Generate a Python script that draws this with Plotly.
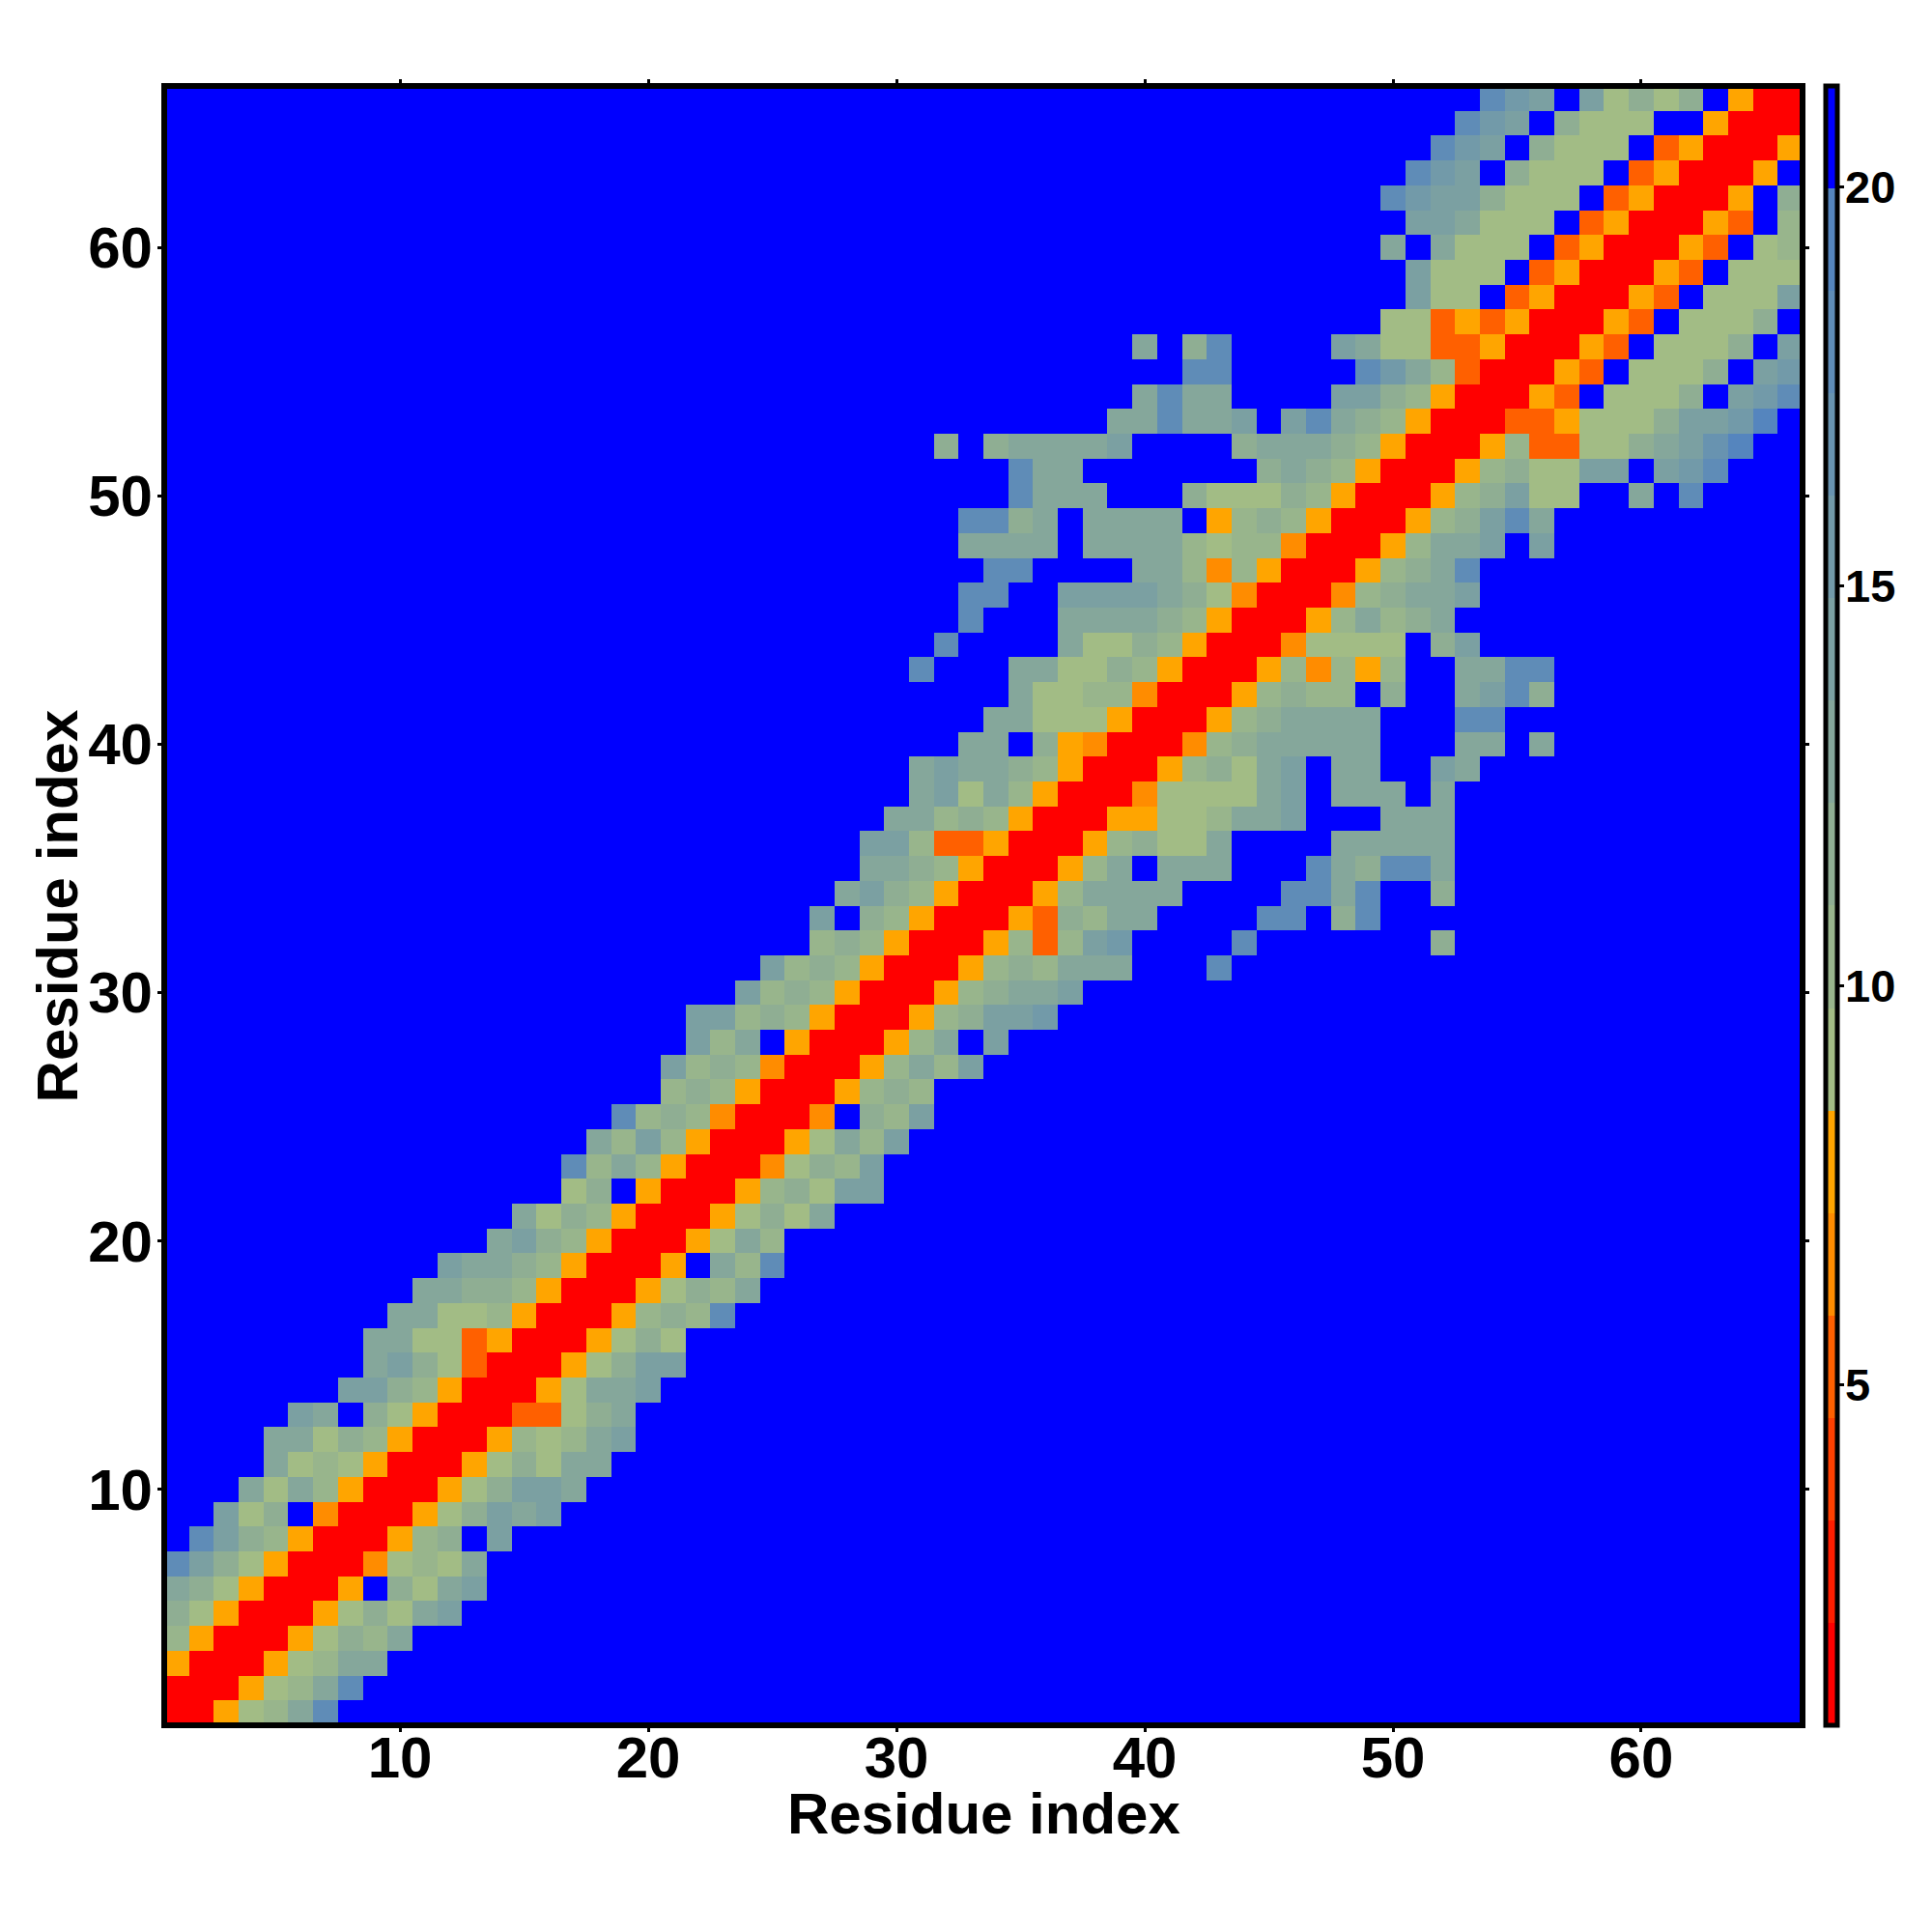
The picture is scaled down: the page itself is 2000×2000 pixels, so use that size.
import plotly.graph_objects as go

# Residue indices on both axes
residues = list(range(1, 67))
tick_values = [10, 20, 30, 40, 50, 60]
colorbar_ticks = [5, 10, 15, 20]
axis_title = "Residue index"

# Colour-bin edges (16 equal bins)
z_min = 0.74
z_max = 21.26
bin_colors = ["#FF0000", "#FF1E00", "#FF4000", "#FF6000", "#FF8C00", "#FFA500",
              "#A2BC85", "#98B58C", "#8FAE93", "#85A79B", "#7BA0A2", "#729AA9",
              "#6893B0", "#5F8CB7", "#5585BE", "#0000FF"]

# Distance bin per cell, read row by row; cells not listed are the top bin (f)
row_cells = {
    1: [(1, "005679d")],
    2: [(1, "0005679d")],
    3: [(1, "500056799")],
    4: [(1, "7500056879")],
    5: [(1, "86500056869a")],
    6: [(1, "98650005f869a")],
    7: [(1, "da86500046769")],
    8: [(2, "da875000578fa")],
    9: [(3, "a68f4000568a9a")],
    10: [(4, "96975000568aa9")],
    11: [(5, "96765000568699")],
    12: [(5, "99687500057679a")],
    13: [(6, "a9f86500033689")],
    14: [(8, "aa8750005699a")],
    15: [(9, "9a863000568aa")],
    16: [(9, "9966350005686")],
    17: [(10, "9966750005787d")],
    18: [(11, "99887500056879")],
    19: [(12, "a998750005f97d")],
    20: [(14, "9a8750005697")],
    21: [(15, "9687500056869")],
    22: [(17, "68f50005786aa")],
    23: [(17, "d79750004687a")],
    24: [(18, "97a750005697a")],
    25: [(19, "d78740004f87a")],
    26: [(21, "78750005787")],
    27: [(21, "a78740005797a")],
    28: [(22, "a79f5000579fa")],
    29: [(22, "aa7875000578aab")],
    30: [(24, "a787500057899a")],
    31: [(25, "a78750005787999"), (43, "d")],
    32: [(27, "78750005737ab"), (44, "d"), (52, "8")],
    33: [(27, "af875000538799"), (45, "dd"), (48, "8d")],
    34: [(28, "9a875000579999"), (46, "dd9d"), (52, "8")],
    35: [(29, "99875000579f999"), (47, "d98dd9")],
    36: [(29, "aa7335000578669"), (48, "99999")],
    37: [(30, "9978750005566799a"), (50, "999")],
    38: [(31, "9a6975000466669a"), (48, "999"), (52, "9")],
    39: [(31, "9a9987500057869a"), (48, "99"), (52, "a9")],
    40: [(33, "99f85400047899999"), (53, "99"), (56, "9")],
    41: [(34, "9966650005789999"), (53, "dd")],
    42: [(35, "96677400057877f8"), (53, "9ad8")],
    43: [(31, "d"), (35, "9966875000574757"), (53, "99dd")],
    44: [(32, "d"), (37, "96687500046666"), (52, "8a")],
    45: [(33, "d"), (37, "9999875000579789")],
    46: [(33, "dd"), (37, "aaaa986400047899a")],
    47: [(34, "dd"), (40, "9974750005789d")],
    48: [(33, "9999f9999767740005799afa")],
    49: [(33, "dd89f9999f57875000578ad9")],
    50: [(35, "d999fff8666875000578a66"), (60, "9"), (62, "d")],
    51: [(35, "d99"), (45, "8987500057866aafabd")],
    52: [(32, "8"), (34, "89999a"), (44, "899987500057336689ace")],
    53: [(39, "99d99a"), (46, "ad98750003356668aabe")],
    54: [(40, "9d99"), (48, "aa87500053f6668fabd")],
    55: [(42, "dd"), (49, "db97300053f6668fab")],
    56: [(40, "9"), (42, "8d"), (48, "a96633500053f6668fa")],
    57: [(50, "66353500053f6668f")],
    58: [(51, "a66f3500053f666a")],
    59: [(51, "a666f3500053f666")],
    60: [(50, "9f9666f3500053f67")],
    61: [(51, "aa9666f3500053f7")],
    62: [(50, "dbaa8666f350005f8")],
    63: [(51, "dbaf8666f350005f")],
    64: [(52, "dbaf8666f350005")],
    65: [(53, "dbaf8666ff5000")],
    66: [(54, "dbafa6868f500")],
}

n_bins = len(bin_colors)
bin_width = (z_max - z_min) / n_bins
z = []
for r in residues:
    row = [z_min + bin_width * 15.5] * len(residues)
    for start, codes in row_cells[r]:
        for i, code in enumerate(codes):
            row[start - 1 + i] = z_min + bin_width * (int(code, 16) + 0.5)
    z.append(row)

colorscale = []
for k, col in enumerate(bin_colors):
    colorscale.append([k / n_bins, col])
    colorscale.append([(k + 1) / n_bins, col])

BLACK = "#000000"
FONT = "Liberation Sans"

fig = go.Figure(go.Heatmap(
    x=residues, y=residues, z=z, zmin=z_min, zmax=z_max, zsmooth=False,
    colorscale=colorscale, hoverongaps=False,
    colorbar=dict(
        x=1.0139, xanchor="left", xpad=0, y=0.5, yanchor="middle", ypad=0, len=1,
        thickness=12, outlinecolor=BLACK, outlinewidth=5, borderwidth=0,
        tickmode="array", tickvals=colorbar_ticks, ticks="outside", ticklen=5,
        tickwidth=3, tickcolor=BLACK, showticklabels=False,
    ),
))

axis_common = dict(
    range=[0.5, 66.5], tickmode="array", tickvals=tick_values, ticks="outside",
    ticklen=6, tickwidth=3, tickcolor=BLACK, showline=True, linecolor=BLACK,
    linewidth=1, mirror="ticks", showgrid=False, zeroline=False,
    tickfont=dict(family=FONT, size=60, color=BLACK, weight=700),
)
title_font = dict(family=FONT, size=60, color=BLACK, weight=700)
cbar_font = dict(family=FONT, size=47, color=BLACK, weight=700)

annotations = [
    dict(text=axis_title, xref="paper", yref="paper", x=0.5, y=-0.0542,
         xanchor="center", yanchor="middle", showarrow=False, font=title_font),
    dict(text=axis_title, xref="paper", yref="paper", x=-0.0649, y=0.5,
         xanchor="center", yanchor="middle", textangle=-90, showarrow=False, font=title_font),
]
for v in colorbar_ticks:
    annotations.append(dict(
        text=str(v), xref="paper", yref="paper", x=1.0248,
        y=(v - z_min) / (z_max - z_min), xanchor="left", yanchor="middle",
        showarrow=False, font=cbar_font))

fig.update_layout(
    width=2000, height=2000, paper_bgcolor="white", plot_bgcolor="white",
    margin=dict(l=170, r=134, t=89, b=214, pad=0),
    xaxis=dict(axis_common, ticklabelstandoff=-25),
    yaxis=dict(axis_common, ticklabelstandoff=-7),
    annotations=annotations,
    shapes=[dict(type="rect", xref="paper", yref="paper", x0=0, x1=1, y0=0, y1=1,
                 line=dict(color=BLACK, width=6), fillcolor="rgba(0,0,0,0)", layer="above")],
)

fig.write_html("out.html", config=dict(displayModeBar=False),
               post_script="document.body.style.margin='0';")
